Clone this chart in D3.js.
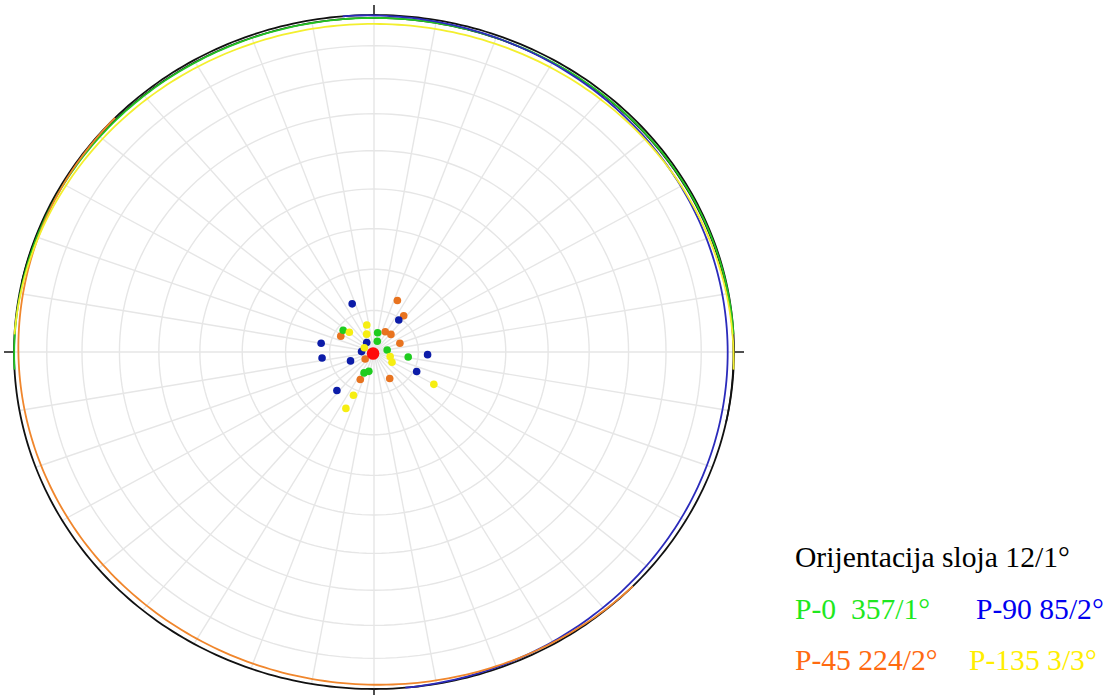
<!DOCTYPE html>
<html>
<head>
<meta charset="utf-8">
<script src="https://cdn.jsdelivr.net/npm/d3@7"></script>
<style>
  html, body { margin: 0; padding: 0; background: #ffffff; }
  svg { display: block; }
</style>
</head>
<body>
<svg id="chart" width="1109" height="695"></svg>
<script>
// ---- data (trend / plunge in degrees; planes as dip direction / dip) ----
const bedding = { name: "Orijentacija sloja", dipDir: 12, dip: 1 };
const planeNames = ["P-0", "P-90", "P-45", "P-135"];
const planeDipDir = [357, 85, 224, 3];
const planeDip = [1, 2, 2, 3];
const planeColors = ["#22c422", "#2b2bbb", "#f0862c", "#f3ef2e"];
const dotColors = ["#1fcc1f", "#0c1ca8", "#e8731f", "#f6ee12"];
const textColors = ["#1ee81e", "#0000f0", "#ff6a10", "#ffee00"];

// poles (trend, plunge) per series
const poles0Trend   = [307, 10, 16, 81, 99, 194, 204];
const poles0Plunge  = [81.3, 85.3, 87.3, 87, 82.2, 85.2, 84.5];
const poles90Trend  = [337, 36, 280, 263, 248, 93, 116, 222, 324, 272];
const poles90Plunge = [77.4, 80.5, 77.9, 78.2, 84.3, 77.9, 79.3, 77.5, 87.2, 87.2];
const poles45Trend  = [23, 37.5, 297, 27.5, 42, 70, 205, 151, 230];
const poles45Plunge = [76.5, 79, 81.6, 84.5, 84.3, 83.8, 82.7, 82.7, 87.4];
const poles135Trend = [346, 339, 310.5, 107, 121.5, 295, 120, 204, 205];
const poles135Plunge= [83.3, 85.4, 82.7, 86.2, 85.25, 87.6, 74.4, 78.6, 75];

const gridPlunges = [10, 20, 30, 40, 50, 60, 70, 80];
const gridAzimuths = d3.range(0, 360, 10);
const tickAzimuths = [0, 90, 180, 270];

const legendLines = [
  [{ text: "Orijentacija sloja 12/1°", color: "#000000" }],
  [{ text: "P-0\u00a0\u00a0357/1°", color: textColors[0] }, { text: "P-90 85/2°", color: textColors[1] }],
  [{ text: "P-45 224/2°", color: textColors[2] }, { text: "P-135 3/3°", color: textColors[3] }]
];

// ---- layout ----
const cx = 374, cy = 352, rx = 360, ry = 337;
const x = d3.scaleLinear().domain([-1, 1]).range([cx - rx, cx + rx]);
const y = d3.scaleLinear().domain([-1, 1]).range([cy + ry, cy - ry]);
const rad = Math.PI / 180;

// equal-area (Schmidt) lower-hemisphere projection
function proj(trend, plunge) {
  const r = Math.SQRT2 * Math.sin((90 - plunge) / 2 * rad);
  return [x(r * Math.sin(trend * rad)), y(r * Math.cos(trend * rad))];
}
function greatCircle(dipDir, dip) {
  const s = (dipDir - 90) * rad, dd = dipDir * rad, d = dip * rad;
  const pts = [];
  for (let p = 0; p <= 180; p += 1) {
    const f = p * rad;
    const n = Math.cos(f) * Math.cos(s) + Math.sin(f) * Math.cos(d) * Math.cos(dd);
    const e = Math.cos(f) * Math.sin(s) + Math.sin(f) * Math.cos(d) * Math.sin(dd);
    const dn = Math.sin(f) * Math.sin(d);
    const tr = Math.atan2(e, n) / rad;
    const pl = Math.asin(Math.max(-1, Math.min(1, dn))) / rad;
    pts.push(proj(tr, pl));
  }
  return pts;
}

const svg = d3.select("#chart");
const line = d3.line();

// grid rings
const gGrid = svg.append("g").attr("fill", "none").attr("stroke", "#e6e6e6").attr("stroke-width", 1.4);
gridPlunges.forEach(pl => {
  const pts = d3.range(0, 361, 2).map(a => proj(a, pl));
  gGrid.append("path").attr("d", line(pts));
});
gridAzimuths.forEach(a => {
  gGrid.append("path").attr("d", line([proj(a, 90), proj(a, 0)]));
});

// primitive
svg.append("path")
  .attr("d", line(d3.range(0, 361, 1).map(a => proj(a, 0))))
  .attr("fill", "none").attr("stroke", "#111").attr("stroke-width", 1.8);

// ticks
tickAzimuths.forEach(a => {
  const p0 = proj(a, 0);
  const dx = Math.sin(a * rad), dy = -Math.cos(a * rad);
  svg.append("line")
    .attr("x1", p0[0] - dx * 1).attr("y1", p0[1] - dy * 1)
    .attr("x2", p0[0] + dx * 10).attr("y2", p0[1] + dy * 10)
    .attr("stroke", "#222").attr("stroke-width", 1.6);
});

// great circles
svg.append("path")
  .attr("d", line(greatCircle(bedding.dipDir, bedding.dip)))
  .attr("fill", "none").attr("stroke", "#111").attr("stroke-width", 1.6);
planeDipDir.forEach((dd, i) => {
  svg.append("path")
    .attr("d", line(greatCircle(dd, planeDip[i])))
    .attr("fill", "none").attr("stroke", planeColors[i]).attr("stroke-width", 1.8);
});

// poles; draw order: P-45, P-90, P-0, P-135
const series = [
  { t: poles45Trend, p: poles45Plunge, c: dotColors[2] },
  { t: poles90Trend, p: poles90Plunge, c: dotColors[1] },
  { t: poles0Trend, p: poles0Plunge, c: dotColors[0] },
  { t: poles135Trend, p: poles135Plunge, c: dotColors[3] }
];
series.forEach(s => {
  svg.append("g").selectAll("circle")
    .data(s.t.map((t, i) => proj(t, s.p[i])))
    .join("circle")
    .attr("cx", d => d[0]).attr("cy", d => d[1])
    .attr("r", 3.8).attr("fill", s.c);
});
// pole to bedding
const bp = proj((bedding.dipDir + 180) % 360, 90 - bedding.dip);
svg.append("circle").attr("cx", bp[0]).attr("cy", bp[1] - 2.5).attr("r", 6.3).attr("fill", "#ff0a0a");

// legend
const legBase = [567, 619, 670];
const colX = [[795], [795, 976], [795, 969]];
legendLines.forEach((row, r) => {
  row.forEach((item, c) => {
    svg.append("text")
      .attr("x", colX[r][c]).attr("y", legBase[r])
      .attr("font-family", "'Liberation Serif', 'Times New Roman', serif")
      .attr("font-size", 29.6)
      .attr("fill", item.color)
      .text(item.text);
  });
});
</script>
</body>
</html>
